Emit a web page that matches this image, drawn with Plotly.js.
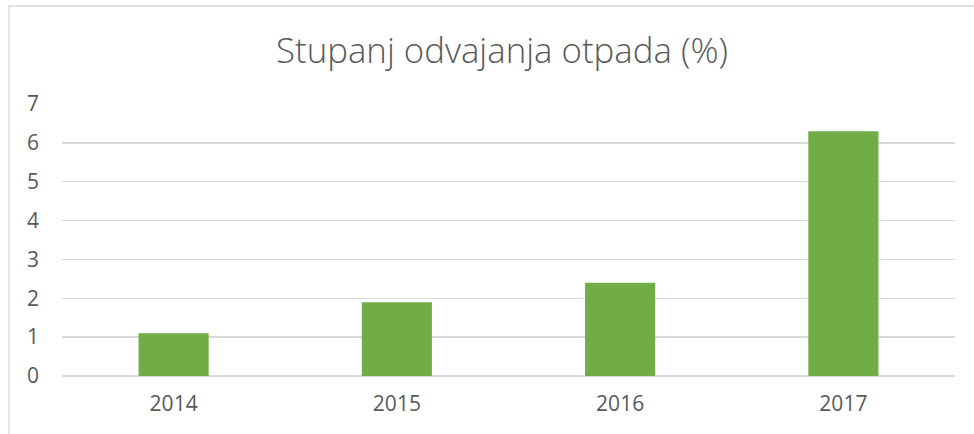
<!DOCTYPE html>
<html>
<head>
<meta charset="utf-8">
<script src="https://cdn.plot.ly/plotly-3.0.1.min.js"></script>
<style>
html,body{margin:0;padding:0;background:#fff;}
#chart{width:974px;height:434px;}
</style>
</head>
<body>
<div id="chart"></div>
<script>
const categories = ["2014", "2015", "2016", "2017"];
const values = [1.1, 1.9, 2.4, 6.3];
const yTicks = [0, 1, 2, 3, 4, 5, 6, 7];
const chartTitle = "Stupanj odvajanja otpada (%)";

const trace = {
  type: "bar",
  x: categories,
  y: values,
  marker: {color: "#70ad47", line: {width: 0}},
  hoverinfo: "x+y"
};

const layout = {
  width: 974,
  height: 434,
  margin: {l: 62, r: 19, t: 104, b: 58},
  paper_bgcolor: "#ffffff",
  plot_bgcolor: "#ffffff",
  bargap: 0.686,
  showlegend: false,
  font: {family: "Open Sans, sans-serif", color: "#595959"},
  title: {
    text: chartTitle,
    font: {family: "Open Sans, sans-serif", size: 34.8, weight: 300, color: "#595959"},
    xref: "container", x: 502 / 974, xanchor: "center",
    yref: "container", y: 1 - 51/434, yanchor: "middle"
  },
  xaxis: {
    type: "category",
    showgrid: false,
    zeroline: false,
    showline: false,
    ticks: "",
    tickfont: {size: 21, color: "#595959"},
    ticklabelstandoff: 13
  },
  yaxis: {
    range: [0, 7],
    tickvals: yTicks,
    ticktext: yTicks.map(String),
    showgrid: true,
    gridcolor: "#d9d9d9",
    gridwidth: 1.3,
    zeroline: true,
    zerolinecolor: "#d9d9d9",
    zerolinewidth: 1.3,
    showline: false,
    ticks: "",
    tickfont: {size: 21, color: "#595959"},
    ticklabelstandoff: 22
  },
  shapes: [{
    type: "rect",
    xref: "paper", yref: "paper",
    x0: (9 - 62) / 893, x1: (990 - 62) / 893,
    y0: (376 - 450) / 272, y1: (376 - 6) / 272,
    line: {color: "#d9d9d9", width: 1.3},
    fillcolor: "rgba(0,0,0,0)",
    layer: "below"
  }]
};

Plotly.newPlot("chart", [trace], layout, {displayModeBar: false, staticPlot: true});
</script>
</body>
</html>
